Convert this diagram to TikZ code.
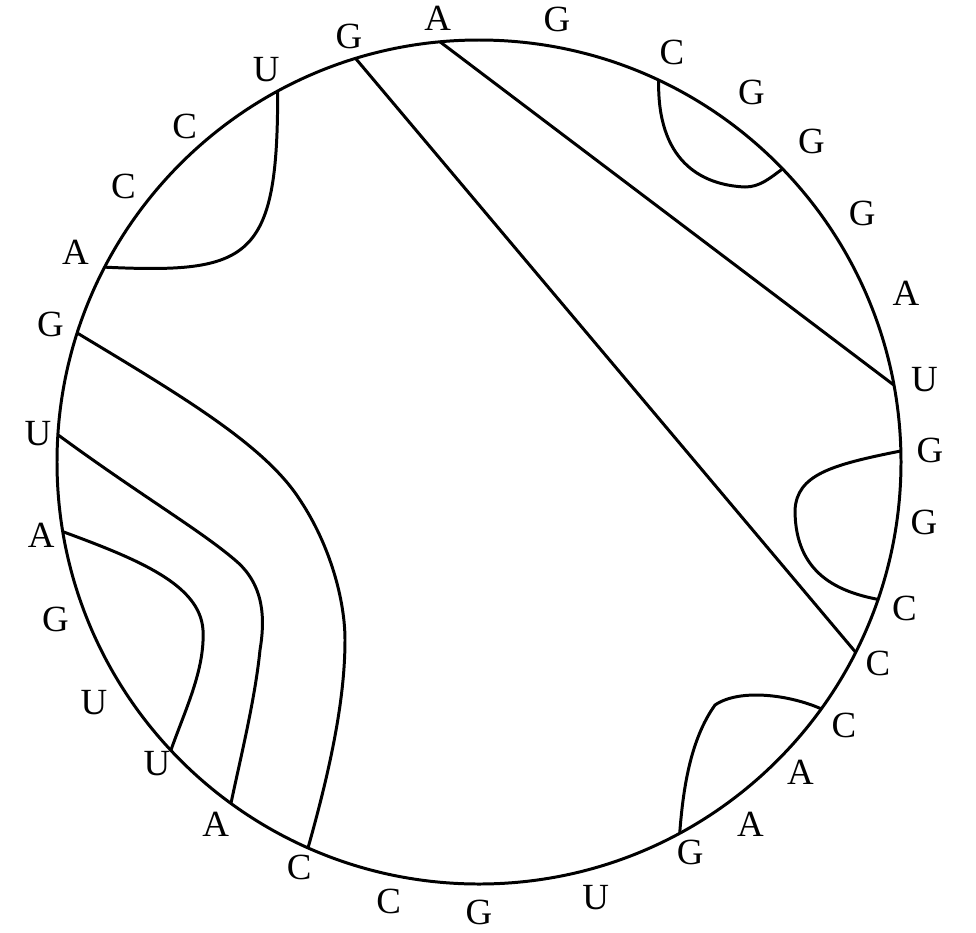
\documentclass[tikz,border=0pt]{standalone}
\usepackage{fontspec}
\setmainfont{Liberation Serif}
\usetikzlibrary{calc}

\begin{document}
\begin{tikzpicture}[base/.style={inner sep=0pt,font=\fontsize{10.5}{12}\selectfont},pair/.style={line width=0.85pt}]
    \useasboundingbox (0,0) rectangle (9.76,-9.32);
    \coordinate (c) at (4.79,-4.62);
    \draw[pair] (c) circle (4.22);
    % bases, clockwise from the top
    \foreach \a/\r/\b [count=\i] in {95.3/4.46/A,80/4.49/G,64.8/4.53/C,53.6/4.59/G,44/4.62/G,33/4.57/G,21.5/4.59/A,10.5/4.53/U,
        1.5/4.51/G,-7.7/4.49/G,-19/4.50/C,-26.8/4.47/C,-35.8/4.50/C,-44/4.47/A,-53.2/4.53/A,-61.6/4.44/G,
        -75/4.51/U,-90/4.50/G,-101.6/4.49/C,-113.9/4.44/C,-126/4.48/A,-136.9/4.41/U,-148/4.54/U,-159.6/4.52/G,
        -170.5/4.44/A,176.3/4.42/U,162.2/4.50/G,152.5/4.55/A,142.2/4.50/C,131.3/4.46/C,118.5/4.46/U,107/4.45/G}{
      \coordinate (p\i) at ($(c)+(\a:4.22)$);
      \node[base] (l\i) at ($(c)+(\a:\r)$) {\b};
    }
    \draw[pair] (p32) -- (p12);
    \draw[pair] (p1) -- (p8);
    \draw[pair] (p31) .. controls (2.78,-2.60) and (2.50,-2.74) .. (p28);
    \draw[pair] (p3) .. controls (6.57,-1.60) and (7.00,-1.85) .. (7.45,-1.87)
       .. controls (7.60,-1.87) and (7.70,-1.78) .. (p5);
    \draw[pair] (p27) .. controls (1.80,-3.95) and (2.65,-4.45) .. (3.00,-5.00)
       .. controls (3.30,-5.45) and (3.45,-6.00) .. (3.45,-6.40)
       .. controls (3.45,-7.00) and (3.30,-7.70) .. (p20);
    \draw[pair] (p26) .. controls (1.40,-4.95) and (2.00,-5.30) .. (2.35,-5.60)
       .. controls (2.65,-5.85) and (2.65,-6.20) .. (2.60,-6.50)
       .. controls (2.55,-7.00) and (2.40,-7.60) .. (p21);
    \draw[pair] (p25) .. controls (1.40,-5.60) and (2.00,-5.85) .. (2.03,-6.30)
       .. controls (2.05,-6.70) and (1.85,-7.10) .. (p22);
    \draw[pair] (p9) .. controls (8.30,-4.65) and (7.97,-4.75) .. (7.95,-5.10)
       .. controls (7.95,-5.75) and (8.40,-5.92) .. (p11);
    \draw[pair] (p13) .. controls (7.90,-6.95) and (7.40,-6.88) .. (7.15,-7.05)
       .. controls (6.90,-7.40) and (6.83,-7.90) .. (p16);
  \end{tikzpicture}
\end{document}
